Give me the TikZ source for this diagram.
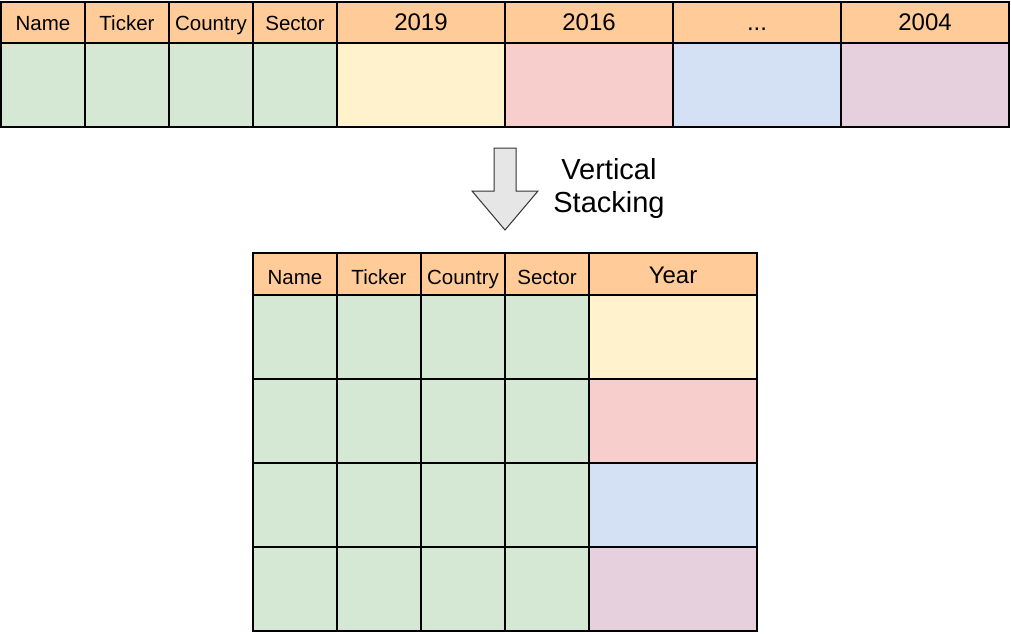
\documentclass[tikz,border=0pt]{standalone}
\usepackage{fontspec}
\setmainfont{Liberation Sans}
\definecolor{hdr}{HTML}{FFCC99}
\definecolor{cgreen}{HTML}{D5E8D4}
\definecolor{cyellow}{HTML}{FFF2CC}
\definecolor{cred}{HTML}{F8CECC}
\definecolor{cblue}{HTML}{D4E1F5}
\definecolor{cpurple}{HTML}{E6D0DE}
\definecolor{arrowfill}{HTML}{E6E6E6}
\newcommand{\threedots}{...}
\tikzset{
  cell/.style={draw=black, line width=2pt, inner sep=0pt, outer sep=0pt, anchor=north west, text=black},
  small/.style={font=\fontsize{20.5}{24}\selectfont, anchor=base, inner sep=0pt},
  big/.style={font=\fontsize{24}{28}\selectfont, anchor=base, inner sep=0pt},
}
\begin{document}
\begin{tikzpicture}[x=1pt,y=-1pt]
\useasboundingbox (0,0) rectangle (1011,635);
% top table header
\foreach \nm/\a/\b/\t/\st/\bl in {tn/1/85/Name/small/30.5, tt/85/169/Ticker/small/30.5, tc/169/253/Country/small/30.5, ts/253/337/Sector/small/30.5, ta/337/505/2019/big/30.5, tb/505/673/2016/big/30.5, td/673/841/\threedots/big/30.5, te/841/1009/2004/big/30.5}{
  \node[cell, fill=hdr, minimum width={(\b-\a)*1pt}, minimum height=41.5pt] (\nm h) at (\a,1.5) {};
  \node[\st] (\nm l) at ({(\a+\b)/2},\bl) {\t};
}
% top table body
\foreach \nm/\a/\b/\c in {tn/1/85/cgreen, tt/85/169/cgreen, tc/169/253/cgreen, ts/253/337/cgreen, ta/337/505/cyellow, tb/505/673/cred, td/673/841/cblue, te/841/1009/cpurple}{
  \node[cell, fill=\c, minimum width={(\b-\a)*1pt}, minimum height=84pt] (\nm b) at (\a,43) {};
}
% arrow
\draw[draw=black!80, line width=1pt, fill=arrowfill, line join=miter]
  (494,148) -- (516,148) -- (516,191) -- (538,191) -- (505,230) -- (472,191) -- (494,191) -- cycle;
\node[font=\fontsize{29}{33}\selectfont, anchor=base, inner sep=0pt] (lbl1) at (609,179) {Vertical};
\node[font=\fontsize{29}{33}\selectfont, anchor=base, inner sep=0pt] (lbl2) at (609,212) {Stacking};
% bottom table header
\foreach \nm/\a/\b/\t/\st/\bl in {bn/253/337/Name/small/284, bt/337/421/Ticker/small/284, bc/421/505/Country/small/284, bs/505/589/Sector/small/284, by/589/757/Year/big/283.5}{
  \node[cell, fill=hdr, minimum width={(\b-\a)*1pt}, minimum height=42pt] (\nm h) at (\a,253) {};
  \node[\st] (\nm l) at ({(\a+\b)/2},\bl) {\t};
}
% bottom table body
\foreach \r/\y/\c in {1/295/cyellow, 2/379/cred, 3/463/cblue, 4/547/cpurple}{
  \foreach \nm/\a/\b in {bn/253/337, bt/337/421, bc/421/505, bs/505/589}{
    \node[cell, fill=cgreen, minimum width={(\b-\a)*1pt}, minimum height=84pt] (\nm\r) at (\a,\y) {};
  }
  \node[cell, fill=\c, minimum width=168pt, minimum height=84pt] (by\r) at (589,\y) {};
}
\end{tikzpicture}
\end{document}
